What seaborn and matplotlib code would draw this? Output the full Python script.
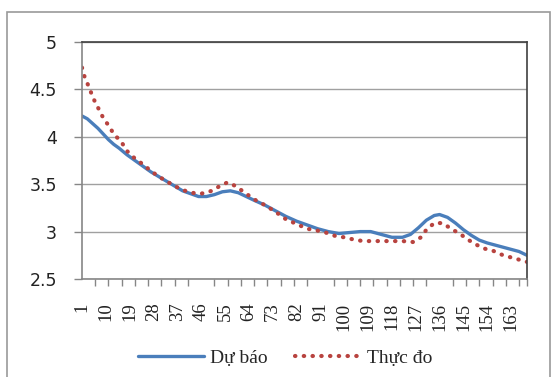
# Gráfico de linhas: Dự báo x Thực đo (recriado com seaborn)

# Importando as bibliotecas
import matplotlib
matplotlib.use("Agg")
import matplotlib.pyplot as plt
import seaborn as sns
from matplotlib.patches import Rectangle

# Dados (índice da amostra e valor)
# Série "Dự báo" (linha azul contínua)
x_du_bao = [1, 3, 5, 7, 9, 11, 13, 15, 18, 21, 24, 27, 30, 33, 36, 39, 42, 45, 48, 51,
            54, 57, 60, 63, 66, 70, 74, 78, 82, 86, 90, 94, 98, 102, 106, 110, 114, 118,
            122, 125, 128, 131, 134, 136, 139, 142, 145, 148, 151, 154, 158, 162, 166, 169]
y_du_bao = [4.22, 4.19, 4.14, 4.09, 4.03, 3.97, 3.92, 3.88, 3.81, 3.75, 3.69, 3.63, 3.58,
            3.53, 3.48, 3.43, 3.40, 3.37, 3.37, 3.39, 3.42, 3.43, 3.41, 3.37, 3.33, 3.28,
            3.22, 3.16, 3.11, 3.07, 3.03, 3.00, 2.98, 2.99, 3.00, 3.00, 2.97, 2.94, 2.94,
            2.97, 3.04, 3.12, 3.17, 3.18, 3.15, 3.09, 3.02, 2.96, 2.91, 2.88, 2.85, 2.82,
            2.79, 2.75]

# Série "Thực đo" (linha vermelha pontilhada)
x_thuc_do = [1, 2, 4, 5, 7, 9, 11, 13, 16, 18, 21, 24, 27, 30, 33, 36, 39, 42, 46, 50,
             53, 56, 59, 62, 66, 70, 74, 78, 82, 86, 90, 93, 97, 100, 103, 107, 111, 114,
             118, 122, 126, 129, 131, 134, 137, 141, 144, 147, 150, 153, 156, 160, 164, 169]
y_thuc_do = [4.73, 4.63, 4.50, 4.42, 4.31, 4.20, 4.12, 4.03, 3.94, 3.85, 3.77, 3.71, 3.64,
             3.58, 3.53, 3.48, 3.44, 3.41, 3.40, 3.43, 3.48, 3.52, 3.48, 3.42, 3.34, 3.28,
             3.21, 3.13, 3.08, 3.03, 3.01, 2.99, 2.95, 2.94, 2.92, 2.90, 2.90, 2.90, 2.90,
             2.90, 2.89, 2.94, 3.02, 3.09, 3.09, 3.02, 2.97, 2.91, 2.86, 2.82, 2.80, 2.75,
             2.72, 2.68]

# Rótulos dos eixos
rotulos_x = list(range(1, 164, 9))
marcas_x = list(range(1, 167, 5)) + [169]
rotulos_y = [2.5, 3, 3.5, 4, 4.5, 5]

# Cores (padrão do Excel)
cor_azul = "#4A7EBB"
cor_vermelha = "#B8433F"

sns.set_style("white")

# Criando a figura com o tamanho da imagem original
fig = plt.figure(figsize = (5.53, 3.77), dpi = 100)
ax = fig.add_axes([82 / 553, 1 - 279 / 377, (527 - 82) / 553, (279 - 42) / 377])

# Moldura externa cinza da figura
fig.patches.append(Rectangle((7 / 553, -0.05), (550 - 7) / 553, 1.05 - 12 / 377,
                             transform = fig.transFigure, fill = False,
                             edgecolor = "#9A9A9A", linewidth = 1.2))

# Plotando as duas séries
sns.lineplot(x = x_du_bao, y = y_du_bao, ax = ax, color = cor_azul, linewidth = 2.4,
             label = "Dự báo")
sns.lineplot(x = x_thuc_do, y = y_thuc_do, ax = ax, color = cor_vermelha, linewidth = 3,
             linestyle = (0, (0.1, 2.0)), dash_capstyle = "round", label = "Thực đo")

# Limites dos eixos
ax.set_xlim(1, 169)
ax.set_ylim(2.5, 5)

# Linhas de grade horizontais
ax.set_yticks(rotulos_y)
ax.set_yticklabels(["2.5", "3", "3.5", "4", "4.5", "5"], fontfamily = "DejaVu Sans",
                   fontsize = 12.5, color = "#222222")
ax.grid(axis = "y", color = "#A0A0A0", linewidth = 1)
ax.grid(axis = "x", visible = False)

# Rótulos do eixo X (sem marca) e marcas menores a cada 5
ax.set_xticks(rotulos_x)
ax.set_xticklabels([str(v) for v in rotulos_x], rotation = 90, fontfamily = "Liberation Serif",
                   fontsize = 13.5, color = "#222222")
ax.set_xticks(marcas_x, minor = True)
ax.tick_params(axis = "x", which = "major", length = 0, pad = 17)
ax.tick_params(axis = "x", which = "minor", bottom = True, length = 5, width = 1, color = "#868686")
ax.tick_params(axis = "y", which = "major", left = True, length = 6, width = 1, color = "#868686", pad = 12)

# Bordas da área de plotagem
for lado in ["top", "right"]:
    ax.spines[lado].set_color("#404040")
    ax.spines[lado].set_linewidth(1.2)
for lado in ["left", "bottom"]:
    ax.spines[lado].set_color("#868686")
    ax.spines[lado].set_linewidth(1.2)

ax.set_xlabel("")
ax.set_ylabel("")

# Legenda embaixo, sem moldura
ax.legend(loc = "center", bbox_to_anchor = (285 / 553, 1 - 358 / 377),
          bbox_transform = fig.transFigure, ncol = 2, frameon = False,
          prop = {"family": "Liberation Serif", "size": 14},
          handlelength = 3.4, handletextpad = 0.3, columnspacing = 1.4)

# Salvando o gráfico
fig.savefig("out.png", dpi = 100)
